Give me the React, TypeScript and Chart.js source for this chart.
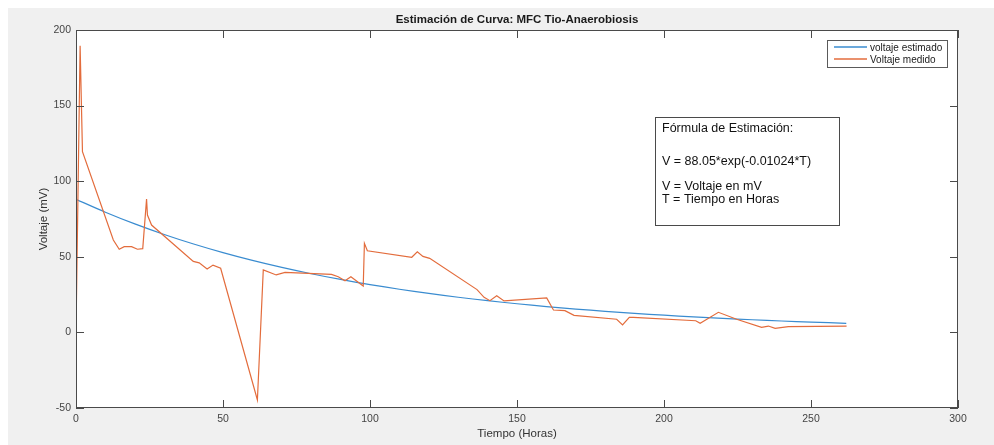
import React, { useEffect, useRef } from "react";
import { Chart, registerables } from "chart.js";

Chart.register(...registerables);

const chartTitle = "Estimación de Curva: MFC Tio-Anaerobiosis";
const xAxisTitle = "Tiempo (Horas)";
const yAxisTitle = "Voltaje (mV)";
const seriesNames = ["voltaje estimado", "Voltaje medido"];
const noteLines = [
  "Fórmula de Estimación:",
  "",
  "V = 88.05*exp(-0.01024*T)",
  "",
  "V = Voltaje en mV",
  "T = Tiempo en Horas",
];

const xTicks = [0, 50, 100, 150, 200, 250, 300];
const yTicks = [-50, 0, 50, 100, 150, 200];

const estimatedHours = [0, 10, 20, 30, 40, 50, 60, 70, 80, 90, 100, 110, 120, 130, 140, 150, 160, 170, 180, 190, 200, 210, 220, 230, 240, 250, 262];
const estimatedVoltage = [88.05, 79.48, 71.75, 64.76, 58.46, 52.77, 47.63, 43.0, 38.81, 35.04, 31.63, 28.55, 25.77, 23.26, 21.0, 18.96, 17.11, 15.45, 13.94, 12.58, 11.36, 10.25, 9.25, 8.35, 7.54, 6.81, 6.02];

const measuredHours = [0, 1.4, 2.2, 12.7, 14.7, 16.4, 18.9, 20.9, 22.7, 24.0, 24.3, 25.7, 39.9, 41.9, 44.6, 46.6, 49.2, 61.7, 63.7, 68.1, 71.1, 86.9, 89.2, 91.5, 93.5, 97.7, 98.1, 99.1, 114.2, 116.1, 118.0, 120.3, 136.4, 138.8, 140.8, 143.1, 145.6, 160.1, 162.4, 166.3, 169.4, 183.9, 185.9, 188.2, 189.6, 210.8, 212.3, 218.5, 224.7, 233.2, 235.5, 237.8, 242.3, 262.1];
const measuredVoltage = [0, 189.5, 119.5, 61.1, 55.0, 56.7, 56.7, 55.0, 55.4, 88.2, 77.6, 71.0, 47.0, 46.0, 42.0, 44.5, 42.4, -44.7, 41.3, 38.0, 39.7, 38.4, 36.8, 34.2, 36.8, 30.7, 58.9, 54.0, 49.7, 53.3, 50.3, 49.0, 28.3, 23.2, 21.0, 24.3, 20.8, 22.8, 14.8, 14.4, 11.3, 8.7, 4.9, 10.0, 10.0, 7.7, 6.0, 13.3, 8.7, 3.4, 4.2, 2.7, 3.8, 4.2];

const BLUE = "#3a8cd0";
const ORANGE = "#e36c3c";
const FONT = '"Liberation Sans", Arial, sans-serif';

const decor = {
  id: "decor",
  beforeDraw(chart: any) {
    const { ctx, width, height, chartArea: a } = chart;
    ctx.save();
    ctx.fillStyle = "#f0f0f0";
    ctx.fillRect(0, 0, width, height);
    ctx.fillStyle = "#ffffff";
    ctx.fillRect(a.left, a.top, a.right - a.left, a.bottom - a.top);
    ctx.restore();
  },
  afterDraw(chart: any) {
    const { ctx, chartArea: a } = chart;
    const xs = chart.scales.x;
    const ys = chart.scales.y;
    ctx.save();
    ctx.strokeStyle = "#4a4a4a";
    ctx.lineWidth = 1;
    ctx.strokeRect(a.left + 0.5, a.top + 0.5, a.right - a.left - 1, a.bottom - a.top - 1);
    ctx.beginPath();
    const tl = 8;
    for (const v of xTicks) {
      const px = Math.round(xs.getPixelForValue(v)) + 0.5;
      ctx.moveTo(px, a.bottom);
      ctx.lineTo(px, a.bottom - tl);
      ctx.moveTo(px, a.top);
      ctx.lineTo(px, a.top + tl);
    }
    for (const v of yTicks) {
      const py = Math.round(ys.getPixelForValue(v)) + 0.5;
      ctx.moveTo(a.left, py);
      ctx.lineTo(a.left + tl, py);
      ctx.moveTo(a.right, py);
      ctx.lineTo(a.right - tl, py);
    }
    ctx.stroke();

    // title
    ctx.fillStyle = "#1a1a1a";
    ctx.textAlign = "center";
    ctx.textBaseline = "middle";
    ctx.font = "bold 11.5px " + FONT;
    ctx.fillText(chartTitle, (a.left + a.right) / 2, 12);

    // axis titles
    ctx.fillStyle = "#333333";
    ctx.font = "11.5px " + FONT;
    ctx.fillText(xAxisTitle, (a.left + a.right) / 2, 426);
    ctx.save();
    ctx.translate(36, (a.top + a.bottom) / 2);
    ctx.rotate(-Math.PI / 2);
    ctx.fillText(yAxisTitle, 0, 0);
    ctx.restore();

    // legend
    const lx = 819, ly = 32, lw = 120, lh = 27;
    ctx.fillStyle = "#ffffff";
    ctx.fillRect(lx, ly, lw, lh);
    ctx.strokeStyle = "#5a5a5a";
    ctx.lineWidth = 1;
    ctx.strokeRect(lx + 0.5, ly + 0.5, lw, lh);
    const colors = [BLUE, ORANGE];
    ctx.font = "10px " + FONT;
    ctx.textAlign = "left";
    seriesNames.forEach((name, i) => {
      const yy = ly + 7 + i * 12;
      ctx.beginPath();
      ctx.strokeStyle = colors[i];
      ctx.lineWidth = 1.5;
      ctx.moveTo(lx + 7, yy);
      ctx.lineTo(lx + 40, yy);
      ctx.stroke();
      ctx.fillStyle = "#1a1a1a";
      ctx.fillText(name, lx + 43, yy + 1);
    });

    // annotation box
    const bx = 647, by = 109, bw = 184, bh = 108;
    ctx.fillStyle = "#ffffff";
    ctx.fillRect(bx, by, bw, bh);
    ctx.strokeStyle = "#4a4a4a";
    ctx.lineWidth = 1;
    ctx.strokeRect(bx + 0.5, by + 0.5, bw, bh);
    ctx.fillStyle = "#111111";
    ctx.font = "12.5px " + FONT;
    const lineYs = [121, 137, 154, 166, 179, 192];
    noteLines.forEach((t, i) => {
      if (t) ctx.fillText(t, bx + 7, lineYs[i]);
    });
    ctx.restore();
  },
};

export default function App() {
  const ref = useRef<HTMLCanvasElement>(null);
  useEffect(() => {
    if (!ref.current) return;
    const est = estimatedHours.map((h, i) => ({ x: h, y: estimatedVoltage[i] }));
    const meas = measuredHours.map((h, i) => ({ x: h, y: measuredVoltage[i] }));
    const chart = new Chart(ref.current, {
      type: "line",
      data: {
        datasets: [
          { label: seriesNames[0], data: est, borderColor: BLUE, borderWidth: 1.2, pointRadius: 0, tension: 0.3, order: 1, fill: false },
          { label: seriesNames[1], data: meas, borderColor: ORANGE, borderWidth: 1.2, pointRadius: 0, tension: 0, order: 0, fill: false },
        ],
      },
      options: {
        animation: false,
        responsive: true,
        maintainAspectRatio: false,
        layout: { padding: { left: 0, top: 22, right: 36, bottom: 0 } },
        plugins: { legend: { display: false }, title: { display: false }, tooltip: { enabled: false } },
        scales: {
          x: {
            type: "linear",
            min: 0,
            max: 300,
            grid: { display: false, drawTicks: false },
            border: { display: false },
            ticks: { stepSize: 50, padding: 5, color: "#444", font: { family: FONT, size: 10.5 }, maxRotation: 0 },
            afterFit: (s: any) => { s.height = 37; },
          },
          y: {
            type: "linear",
            min: -50,
            max: 200,
            grid: { display: false, drawTicks: false },
            border: { display: false },
            ticks: { stepSize: 50, padding: 5, color: "#444", font: { family: FONT, size: 10.5 } },
            afterFit: (s: any) => { s.width = 68; },
          },
        },
      },
      plugins: [decor],
    });
    return () => chart.destroy();
  }, []);
  return (
    <div style={{ position: "fixed", left: 8, top: 8, width: 986, height: 437, background: "#f0f0f0" }}>
      <canvas ref={ref} />
    </div>
  );
}
